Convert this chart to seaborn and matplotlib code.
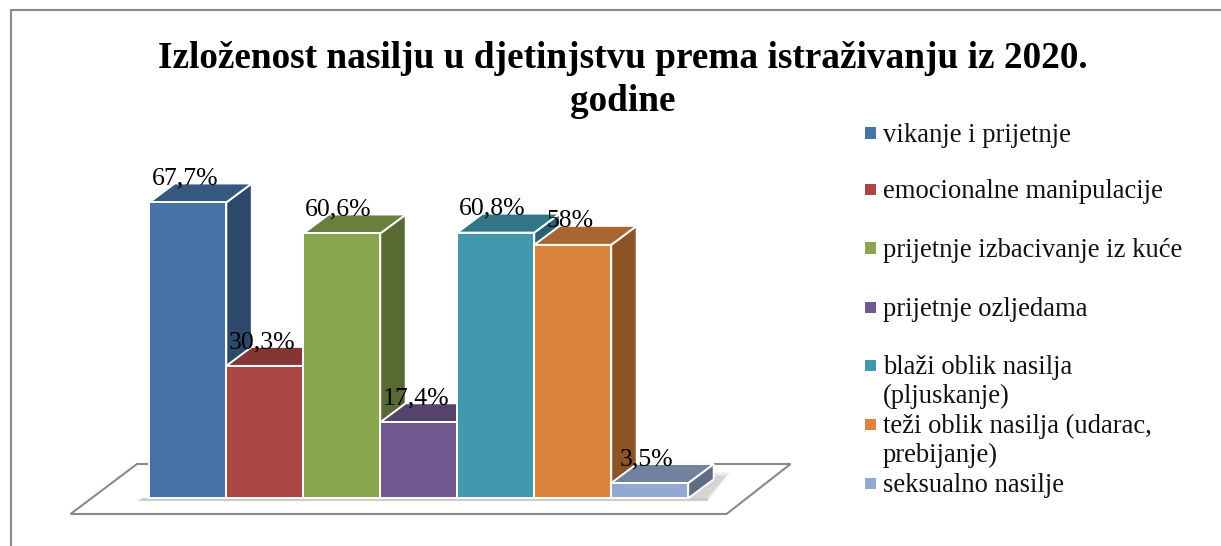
import matplotlib
matplotlib.use("Agg")
import matplotlib.pyplot as plt
from matplotlib.colors import to_rgb
from matplotlib.lines import Line2D
from matplotlib.patches import Polygon, Rectangle
import seaborn as sns

# Data
categories = [
    "vikanje i prijetnje",
    "emocionalne manipulacije",
    "prijetnje izbacivanje iz kuće",
    "prijetnje ozljedama",
    "blaži oblik nasilja\n(pljuskanje)",
    "teži oblik nasilja (udarac,\nprebijanje)",
    "seksualno nasilje",
]
values = [67.7, 30.3, 60.6, 17.4, 60.8, 58, 3.5]
colors = ["#4572A7", "#AA4643", "#89A54E", "#71588F", "#4198AF", "#DB843D", "#93A9CF"]
title = "Izloženost nasilju u djetinjstvu prema istraživanju iz 2020.\ngodine"

W, H = 1221, 546
GRAY = "#8a8a8a"

sns.set_theme(style="white")
plt.rcParams["font.family"] = ["Liberation Serif", "DejaVu Serif"]


def px(x, y):
    # pixel position in the picture -> figure fraction
    return x / W, 1 - y / H


def shade(color, factor):
    return tuple(c * factor for c in to_rgb(color))


fig = plt.figure(figsize=(W / 100, H / 100), dpi=100, facecolor="white")
# Axes spans exactly the seven bars, 4.37 px per percent
ax = fig.add_axes([149.3 / W, (H - 498.3) / H, 538.9 / W, 80 * 4.37 / H])

# Chart frame: only the top and left edges are visible
fig.add_artist(Line2D(*zip(px(11, 546), px(11, 10), px(1221, 10)), transform=fig.transFigure,
                      color=GRAY, lw=1.5, solid_joinstyle="miter", zorder=-3))

# Floor of the 3D chart
floor = [px(70.5, 514), px(726.5, 514), px(790.5, 464), px(137, 464)]
fig.add_artist(Polygon(floor, closed=True, transform=fig.transFigure, facecolor="white",
                       edgecolor=GRAY, lw=1.5, zorder=-3))
# Soft shadow on the floor
for grow, alpha in [(4, 0.10), (2, 0.12), (0, 0.14)]:
    fig.add_artist(Polygon([px(688, 499), px(706 + grow, 499), px(726 + grow, 476 - grow), px(712, 476 - grow)],
                           closed=True, transform=fig.transFigure, facecolor="#808080", alpha=alpha,
                           edgecolor="none", zorder=-2))
fig.add_artist(Polygon([px(137, 501), px(708, 501), px(708, 498), px(143, 498)], closed=True,
                       transform=fig.transFigure, facecolor="#cccccc", edgecolor="none", zorder=-2))

ax.patch.set_alpha(0)
sns.barplot(x=categories, y=values, hue=categories, palette=colors, order=categories,
            hue_order=categories, dodge=False, width=1, saturation=1, legend=False, ax=ax,
            edgecolor="white", linewidth=1.4)
ax.set_xlim(-0.5, 6.5)
ax.set_ylim(0, 80)
ax.axis("off")

# Depth of the 3D boxes in data units
DX = 25.5 / 77
DY = 19 / 4.37

bars = sorted(ax.patches, key=lambda p: p.get_x())
for i, (bar, value, color) in enumerate(zip(bars, values, colors)):
    x0 = bar.get_x()
    x1 = x0 + bar.get_width()
    h = bar.get_height()
    z = 3 + i * 2
    side = Polygon([(x1, 0), (x1 + DX, DY), (x1 + DX, h + DY), (x1, h)], closed=True,
                   facecolor=shade(color, 0.64), edgecolor="white", lw=1.4, zorder=z, clip_on=False)
    top = Polygon([(x0, h), (x1, h), (x1 + DX, h + DY), (x0 + DX, h + DY)], closed=True,
                  facecolor=shade(color, 0.77), edgecolor="white", lw=1.4, zorder=z, clip_on=False)
    ax.add_patch(side)
    ax.add_patch(top)
    bar.set_zorder(z + 1)
    bar.set_clip_on(False)

    label = f"{value:g}".replace(".", ",") + "%"
    ax.text(x0 + 0.5 - 0.04, h + DY - 0.25, label, ha="center", va="baseline",
            fontsize=18.5, color="black", zorder=30, clip_on=False)

# Title
fig.text(*px(622.5, 41), title, ha="center", va="top", multialignment="center",
         fontsize=26.8, fontweight="bold", color="black", linespacing=1.3)

# Legend: first lines are evenly spaced, wrapped entries run into the next one
legend_y = [133, 189.5, 248, 307, 365.5, 424, 483]
for name, color, y in zip(categories, colors, legend_y):
    sx, sy = px(865, y + 5.5)
    fig.add_artist(Rectangle((sx, sy), 11 / W, 11 / H, transform=fig.transFigure,
                             facecolor=color, edgecolor="none"))
    fig.text(*px(883, y - 10), name, ha="left", va="top", fontsize=19.2, color="#111111",
             linespacing=1.2)

fig.savefig("out.png", dpi=100)
